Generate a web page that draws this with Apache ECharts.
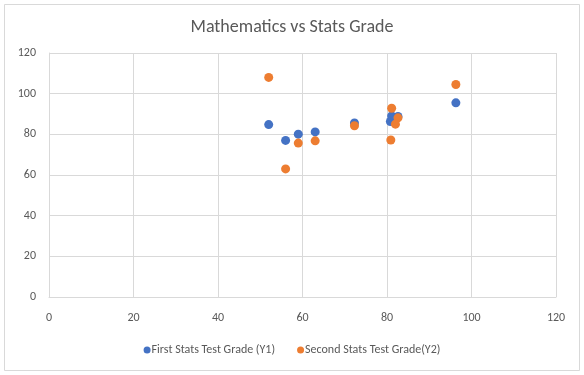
<!DOCTYPE html>
<html>
<head>
<meta charset="utf-8">
<script src="https://cdn.jsdelivr.net/npm/echarts@6/dist/echarts.min.js"></script>
<style>
html,body{margin:0;padding:0;background:#fff;}
#chart{width:584px;height:375px;}
</style>
</head>
<body>
<div id="chart"></div>
<script>
var titleText = "Mathematics vs Stats Grade";
var seriesNames = ["First Stats Test Grade (Y1)", "Second Stats Test Grade(Y2)"];
var mathX = [52, 56, 59, 63, 72.3, 80.8, 81.1, 82.6, 96.3];
var firstStats = [84.8, 77, 80.1, 81.2, 85.6, 86.3, 89, 88.8, 95.5];
var mathX2 = [52, 56, 59, 63, 72.3, 81.1, 82.6, 82, 80.9, 96.3];
var secondStats = [108, 63, 75.7, 76.8, 84.2, 92.8, 88.1, 85, 77.2, 104.5];
var xTicks = {min: 0, max: 120, interval: 20};
var yTicks = {min: 0, max: 120, interval: 20};

function pairs(xs, ys){ return xs.map(function(x,i){ return [x, ys[i]]; }); }

var chart = echarts.init(document.getElementById('chart'), null, {renderer:'canvas'});
var font = "Calibri, Carlito, 'Open Sans', sans-serif";
chart.setOption({
  animation: false,
  backgroundColor: '#fff',
  title: {
    text: titleText, left: 'center', top: 13,
    textStyle: {color: '#595959', fontSize: 18, fontWeight: 'normal', fontFamily: font}
  },
  graphic: [{
    type: 'rect', shape: {x: 4.5, y: 4.5, width: 575, height: 366},
    style: {fill: 'none', stroke: '#d9d9d9', lineWidth: 1}, silent: true, z: -1
  }],
  grid: {left: 49, right: 28, top: 53, bottom: 78},
  legend: {
    bottom: 14, left: 'center', itemGap: 22, itemWidth: 7, itemHeight: 7,
    icon: 'circle',
    textStyle: {color: '#595959', fontSize: 12, fontFamily: font, padding: [0,0,0,-4]},
    data: seriesNames
  },
  xAxis: {
    type: 'value', min: xTicks.min, max: xTicks.max, interval: xTicks.interval,
    axisLine: {show: true, lineStyle: {color: '#d9d9d9'}},
    axisTick: {show: false},
    splitLine: {show: true, lineStyle: {color: '#d9d9d9'}},
    axisLabel: {color: '#595959', fontSize: 12, fontFamily: font, margin: 15}
  },
  yAxis: {
    type: 'value', min: yTicks.min, max: yTicks.max, interval: yTicks.interval,
    axisLine: {show: true, lineStyle: {color: '#d9d9d9'}},
    axisTick: {show: false},
    splitLine: {show: true, lineStyle: {color: '#d9d9d9'}},
    axisLabel: {color: '#595959', fontSize: 12, fontFamily: font, margin: 13}
  },
  series: [
    {name: seriesNames[0], type: 'scatter', symbolSize: 9, data: pairs(mathX, firstStats),
     itemStyle: {color: '#4472C4', opacity: 1}},
    {name: seriesNames[1], type: 'scatter', symbolSize: 9, data: pairs(mathX2, secondStats),
     itemStyle: {color: '#ED7D31', opacity: 1}}
  ]
});
</script>
</body>
</html>
